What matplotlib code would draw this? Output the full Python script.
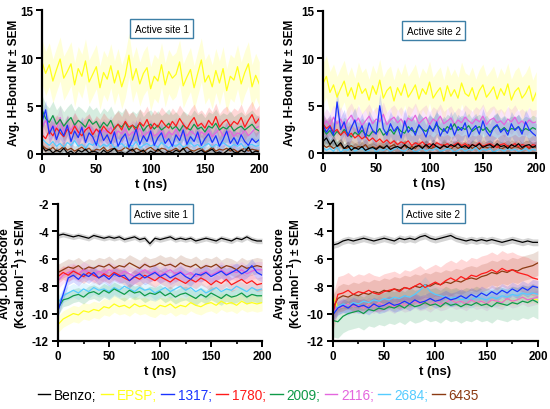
"""Two active sites: H-bond counts and DockScore over 200 ns (mean +/- SEM)."""

import numpy as np
import matplotlib
matplotlib.use("Agg")
import matplotlib.pyplot as plt

plt.rcParams["font.family"] = ["Liberation Sans", "DejaVu Sans"]
plt.rcParams["axes.unicode_minus"] = False

# ---------------------------------------------------------------------------
# Data
# ---------------------------------------------------------------------------

names = ["Benzo", "EPSP", "1317", "1780", "2009", "2116", "2684", "6435"]
colors = ["#000000", "#ffff1a", "#1a33ff", "#ff1a1a", "#0f9a48",
          "#e466de", "#55ccff", "#8b3a12"]

t_hb = np.linspace(0, 200, 61)
t_ds = np.linspace(0, 200, 41)

# H-bond number, active site 1
hb1_benzo = [0.8, 0.3, 0.5, 0.1, 0.4, 0.2, 0.6, 0.1, 0.3, 0.0, 0.4, 0.2, 0.5, 0.1, 0.3, 0.2, 0.0, 0.4, 0.1, 0.3, 0.6, 0.1, 0.2, 0.0, 0.3, 0.5, 0.1, 0.2, 0.4, 0.0, 0.3, 0.1, 0.5, 0.2, 0.0, 0.3, 0.1, 0.4, 0.2, 0.6, 0.1, 0.3, 0.0, 0.2, 0.4, 0.1, 0.3, 0.5, 0.1, 0.2, 0.0, 0.3, 0.6, 0.2, 0.1, 0.4, 0.2, 0.7, 0.1, 0.3, 0.2]
hb1_epsp = [9.6, 8.4, 9.3, 7.6, 8.8, 9.9, 7.9, 8.6, 9.4, 7.2, 8.9, 8.1, 9.7, 7.5, 8.3, 9.1, 6.9, 8.5, 7.8, 9.2, 7.4, 8.7, 7.0, 8.2, 10.3, 7.7, 8.9, 7.3, 8.4, 9.0, 6.8, 8.1, 7.6, 9.3, 7.2, 8.6, 7.9, 8.3, 9.6, 7.1, 8.0, 8.8, 6.9, 8.4, 9.8, 7.5, 8.2, 7.0, 8.7, 7.4, 8.9, 6.6, 8.1, 7.7, 9.1, 7.3, 8.5, 9.4, 7.0, 8.2, 7.3]
hb1_1317 = [3.4, 4.6, 2.1, 2.9, 1.5, 2.6, 1.9, 3.0, 1.3, 2.4, 1.7, 2.8, 1.2, 2.2, 1.8, 0.9, 2.5, 1.4, 2.0, 1.1, 2.3, 0.8, 1.6, 2.1, 0.7, 1.5, 2.6, 1.0, 1.9, 1.3, 2.4, 0.9, 1.7, 2.2, 1.1, 1.6, 0.8, 2.0, 1.4, 2.5, 1.0, 1.8, 1.3, 2.3, 0.9, 1.6, 2.1, 1.2, 1.9, 0.8, 1.5, 2.4, 1.1, 1.7, 1.0, 2.0, 1.3, 0.9, 1.6, 1.2, 1.5]
hb1_1780 = [2.0, 1.6, 2.4, 1.9, 2.7, 2.2, 1.8, 2.6, 2.1, 2.9, 2.3, 1.9, 2.5, 2.8, 2.0, 2.6, 2.2, 2.9, 2.4, 2.1, 2.7, 3.1, 2.5, 3.4, 2.8, 3.0, 2.4, 3.3, 2.9, 3.6, 2.6, 3.2, 2.8, 3.5, 3.0, 2.7, 3.4, 2.9, 3.7, 3.1, 2.6, 3.3, 3.8, 2.9, 3.2, 2.7, 3.5, 3.0, 3.9, 2.8, 3.3, 3.6, 2.9, 3.4, 3.1, 3.8, 2.8, 3.5, 4.1, 3.2, 3.7]
hb1_2009 = [4.6, 3.7, 3.3, 4.0, 3.1, 3.6, 2.9, 3.4, 3.8, 3.0, 3.5, 3.2, 2.8, 3.6, 3.1, 3.4, 2.7, 3.3, 2.9, 3.5, 2.6, 3.1, 2.8, 3.3, 2.5, 3.0, 2.7, 3.2, 2.4, 2.9, 3.1, 2.6, 3.0, 2.5, 2.8, 3.2, 2.6, 2.9, 2.4, 3.0, 2.7, 2.5, 3.1, 2.6, 2.8, 2.3, 2.9, 2.7, 3.2, 2.5, 2.8, 2.6, 3.0, 2.4, 2.7, 2.9, 2.5, 2.8, 3.1, 2.6, 2.4]
hb1_2116 = [2.8, 3.5, 2.4, 3.0, 2.6, 3.8, 2.3, 2.9, 2.5, 3.2, 2.1, 2.7, 2.4, 3.0, 2.2, 2.6, 1.9, 2.5, 2.2, 2.8, 1.8, 2.4, 2.1, 2.6, 1.9, 2.3, 2.0, 2.7, 1.8, 2.2, 2.4, 1.9, 2.1, 2.5, 1.7, 2.3, 2.0, 2.6, 1.8, 2.2, 1.9, 2.4, 2.1, 1.7, 2.3, 2.0, 2.5, 1.8, 2.2, 2.6, 1.9, 2.1, 2.4, 1.8, 2.2, 2.0, 2.5, 1.9, 2.3, 2.7, 2.9]
hb1_2684 = [1.6, 1.2, 0.9, 1.3, 0.8, 1.1, 0.7, 1.2, 0.9, 1.4, 0.8, 1.0, 0.6, 1.1, 0.9, 1.3, 0.7, 1.0, 0.8, 1.2, 0.6, 0.9, 1.1, 0.7, 1.0, 0.8, 1.3, 0.6, 0.9, 1.1, 0.8, 1.0, 0.7, 1.2, 0.9, 0.6, 1.0, 0.8, 1.1, 0.7, 0.9, 1.2, 0.8, 1.0, 0.6, 0.9, 1.1, 0.7, 1.0, 0.8, 1.2, 0.9, 0.7, 1.0, 0.8, 1.1, 0.6, 0.9, 1.0, 0.8, 0.9]
hb1_6435 = [0.9, 0.6, 0.4, 0.7, 0.3, 0.5, 0.8, 0.4, 0.6, 0.3, 0.5, 0.7, 0.4, 0.6, 0.2, 0.5, 0.4, 0.7, 0.3, 0.5, 0.6, 0.3, 0.4, 0.7, 0.5, 0.3, 0.6, 0.4, 0.2, 0.5, 0.7, 0.4, 0.3, 0.6, 0.5, 0.2, 0.4, 0.6, 0.3, 0.5, 0.7, 0.4, 0.3, 0.5, 0.6, 0.2, 0.4, 0.7, 0.3, 0.5, 0.4, 0.6, 0.3, 0.5, 0.2, 0.4, 0.6, 0.3, 0.5, 0.4, 0.3]
hb1_sem = [0.3, 2.3, 1.0, 1.4, 1.5, 1.2, 0.8, 0.5]

# H-bond number, active site 2
hb2_benzo = [1.2, 1.6, 0.9, 1.4, 0.7, 1.1, 0.5, 0.8, 0.3, 0.6, 0.4, 0.7, 0.3, 0.5, 0.6, 0.4, 0.7, 0.5, 0.8, 0.4, 0.6, 0.7, 0.5, 0.9, 0.6, 0.4, 0.7, 0.8, 0.5, 0.9, 0.6, 1.0, 0.7, 0.5, 0.8, 0.6, 0.9, 0.7, 1.0, 0.6, 0.8, 0.5, 0.9, 0.7, 1.0, 0.6, 0.8, 0.9, 0.6, 1.0, 0.7, 0.8, 0.5, 0.9, 0.7, 1.0, 0.6, 0.8, 0.9, 0.6, 0.8]
hb2_epsp = [7.3, 8.1, 6.4, 7.2, 5.9, 6.8, 7.6, 6.0, 6.9, 5.7, 7.4, 6.3, 6.8, 5.6, 7.1, 6.2, 7.7, 5.8, 6.6, 7.0, 5.5, 6.9, 6.1, 7.3, 5.9, 6.5, 7.2, 5.7, 6.8, 6.2, 7.5, 5.8, 6.4, 6.9, 5.5, 7.1, 6.0, 6.7, 5.8, 7.4, 6.3, 6.0, 6.9, 5.6, 6.6, 7.2, 5.9, 6.4, 7.0, 5.7, 6.8, 6.1, 7.3, 5.6, 6.5, 6.9, 5.8, 6.3, 7.1, 5.5, 6.4]
hb2_1317 = [3.0, 2.2, 2.8, 1.9, 5.4, 2.5, 3.3, 1.8, 2.7, 3.5, 2.1, 2.9, 1.7, 3.2, 2.4, 2.0, 5.0, 2.6, 1.9, 3.1, 2.3, 2.8, 1.6, 3.4, 2.2, 2.7, 1.9, 3.0, 2.5, 1.7, 2.9, 2.3, 3.3, 1.8, 2.6, 2.1, 3.1, 1.9, 2.8, 2.4, 3.2, 1.7, 2.5, 2.9, 2.0, 3.4, 2.3, 1.8, 2.7, 3.0, 2.2, 2.6, 1.9, 3.1, 2.4, 2.8, 2.0, 3.3, 2.5, 2.1, 1.8]
hb2_1780 = [3.1, 2.6, 2.9, 2.2, 2.5, 1.9, 2.3, 1.8, 2.1, 1.6, 1.9, 1.5, 1.8, 1.3, 1.6, 1.2, 1.5, 1.1, 1.4, 1.0, 1.3, 0.9, 1.2, 1.0, 1.3, 0.8, 1.1, 0.9, 1.2, 0.8, 1.0, 0.7, 1.1, 0.9, 0.8, 1.0, 0.7, 0.9, 1.1, 0.8, 1.0, 0.7, 0.9, 0.8, 1.1, 0.7, 0.9, 1.0, 0.8, 0.6, 0.9, 1.0, 0.7, 0.8, 1.0, 0.7, 0.9, 0.8, 0.6, 0.9, 0.8]
hb2_2009 = [2.6, 2.0, 2.4, 1.8, 2.3, 1.9, 2.5, 2.1, 1.7, 2.2, 1.9, 2.4, 2.0, 1.8, 2.3, 2.1, 2.6, 1.9, 2.2, 2.5, 2.0, 2.7, 2.3, 2.1, 2.8, 2.4, 2.2, 2.9, 2.5, 2.3, 2.7, 2.4, 3.0, 2.6, 2.3, 2.8, 2.5, 3.1, 2.4, 2.7, 2.5, 2.9, 2.3, 2.6, 2.8, 2.4, 2.7, 2.2, 2.6, 2.9, 2.4, 2.7, 2.3, 2.6, 2.5, 2.8, 2.3, 2.6, 2.4, 2.7, 2.5]
hb2_2116 = [2.8, 3.4, 2.9, 3.8, 3.1, 3.6, 2.7, 3.5, 4.0, 3.2, 3.7, 2.9, 3.4, 3.9, 3.1, 3.6, 3.3, 4.1, 3.0, 3.5, 3.8, 3.2, 3.6, 2.9, 3.7, 3.4, 4.0, 3.1, 3.5, 3.8, 3.0, 3.6, 3.3, 3.9, 3.1, 3.4, 3.7, 3.0, 3.5, 3.2, 3.8, 3.4, 3.1, 3.6, 3.3, 3.9, 3.0, 3.5, 3.7, 3.2, 3.4, 3.0, 3.6, 3.3, 3.8, 3.1, 3.4, 3.0, 3.5, 3.2, 3.3]
hb2_2684 = [0.6, 0.3, 0.5, 0.2, 0.7, 0.1, 0.4, 0.3, 0.6, 0.2, 0.4, 0.5, 0.2, 0.3, 0.6, 0.1, 0.4, 0.3, 0.5, 0.2, 0.4, 0.6, 0.3, 0.2, 0.5, 0.4, 0.1, 0.3, 0.5, 0.2, 0.4, 0.3, 0.6, 0.2, 0.3, 0.5, 0.4, 0.1, 0.3, 0.5, 0.2, 0.4, 0.3, 0.6, 0.2, 0.4, 0.3, 0.5, 0.1, 0.3, 0.4, 0.2, 0.5, 0.3, 0.4, 0.2, 0.3, 0.5, 0.2, 0.4, 0.3]
hb2_6435 = [0.9, 0.6, 0.8, 0.5, 0.7, 0.9, 0.4, 0.6, 0.8, 0.5, 0.7, 0.6, 0.9, 0.4, 0.7, 0.5, 0.8, 0.6, 0.4, 0.7, 0.9, 0.5, 0.6, 0.8, 0.4, 0.7, 0.5, 0.9, 0.6, 0.8, 0.4, 0.6, 0.7, 0.5, 0.9, 0.6, 0.4, 0.8, 0.5, 0.7, 0.6, 0.9, 0.5, 0.7, 0.4, 0.8, 0.6, 0.5, 0.7, 0.9, 0.4, 0.6, 0.8, 0.5, 0.7, 0.6, 0.4, 0.8, 0.5, 0.7, 0.6]
hb2_sem = [0.5, 2.2, 1.3, 1.0, 1.3, 1.3, 0.5, 0.6]

# DockScore, active site 1
ds1_benzo = [-4.3, -4.2, -4.3, -4.4, -4.3, -4.4, -4.5, -4.3, -4.4, -4.5, -4.4, -4.5, -4.4, -4.6, -4.5, -4.4, -4.6, -4.5, -4.9, -4.5, -4.6, -4.5, -4.4, -4.6, -4.5, -4.6, -4.5, -4.7, -4.6, -4.5, -4.6, -4.7, -4.5, -4.6, -4.7, -4.5, -4.6, -4.4, -4.6, -4.7, -4.7]
ds1_epsp = [-10.8, -10.4, -10.2, -10.0, -10.1, -9.8, -9.9, -9.7, -9.8, -9.5, -9.6, -9.3, -9.5, -9.4, -9.6, -9.3, -9.5, -9.4, -9.6, -9.7, -9.4, -9.5, -9.3, -9.6, -9.4, -9.5, -9.2, -9.4, -9.5, -9.3, -9.2, -9.4, -9.1, -9.3, -9.2, -9.4, -9.1, -9.3, -9.2, -9.3, -9.2]
ds1_1317 = [-9.8, -8.6, -7.4, -7.2, -7.5, -7.1, -7.3, -7.0, -7.4, -7.2, -7.5, -7.1, -7.3, -7.2, -7.6, -7.3, -7.1, -7.4, -7.2, -7.0, -7.3, -7.1, -7.4, -7.2, -7.0, -7.3, -7.5, -7.1, -7.2, -7.0, -7.3, -7.1, -6.9, -7.2, -7.0, -6.8, -7.1, -6.9, -6.5, -7.0, -7.2]
ds1_1780 = [-7.3, -7.0, -7.2, -6.9, -7.1, -7.3, -7.0, -7.2, -7.4, -7.1, -7.3, -7.0, -7.2, -7.4, -7.6, -7.3, -7.5, -7.2, -7.4, -7.6, -7.3, -7.5, -7.7, -7.4, -7.6, -7.8, -7.5, -7.7, -7.4, -7.6, -7.9, -7.6, -7.8, -7.5, -7.9, -7.7, -7.5, -7.8, -7.6, -7.9, -7.8]
ds1_2009 = [-9.6, -9.0, -8.9, -8.7, -8.6, -8.8, -8.5, -8.4, -8.6, -8.3, -8.5, -8.2, -8.4, -8.6, -8.3, -8.5, -8.4, -8.7, -8.5, -8.6, -8.4, -8.7, -8.5, -8.8, -8.6, -8.5, -8.7, -8.9, -8.6, -8.8, -8.5, -8.7, -8.9, -8.6, -8.8, -8.7, -8.5, -8.8, -8.6, -8.7, -8.7]
ds1_2116 = [-7.6, -7.2, -7.0, -6.9, -7.1, -6.8, -7.0, -7.2, -6.9, -7.1, -6.8, -7.0, -7.2, -6.9, -7.1, -7.3, -7.0, -6.8, -7.1, -6.9, -7.2, -7.0, -6.8, -7.1, -6.9, -7.2, -7.0, -7.3, -7.1, -6.9, -7.2, -7.0, -6.8, -7.1, -6.9, -7.0, -6.8, -7.1, -6.9, -6.8, -6.8]
ds1_2684 = [-9.2, -8.7, -8.5, -8.3, -8.5, -8.2, -8.4, -8.1, -8.3, -8.2, -8.4, -8.1, -8.3, -8.0, -8.2, -8.4, -8.1, -8.3, -8.2, -8.5, -8.3, -8.1, -8.4, -8.2, -8.0, -8.3, -8.1, -8.4, -8.2, -8.5, -8.3, -8.1, -8.4, -8.2, -8.3, -8.0, -8.2, -8.4, -8.1, -8.3, -8.2]
ds1_6435 = [-7.0, -6.8, -6.6, -6.7, -6.5, -6.8, -6.6, -6.7, -6.5, -6.6, -6.4, -6.7, -6.5, -6.6, -6.3, -6.5, -6.7, -6.4, -6.6, -6.5, -6.3, -6.5, -6.4, -6.6, -6.3, -6.5, -6.6, -6.4, -6.7, -6.5, -6.6, -6.4, -6.7, -6.5, -6.6, -6.8, -6.5, -6.7, -6.6, -6.5, -6.6]
ds1_sem = [0.2, 0.6, 0.5, 0.5, 0.5, 0.6, 0.5, 0.6]

# DockScore, active site 2
ds2_benzo = [-5.0, -4.9, -4.7, -4.6, -4.7, -4.6, -4.5, -4.6, -4.7, -4.6, -4.5, -4.6, -4.7, -4.5, -4.6, -4.5, -4.6, -4.4, -4.3, -4.5, -4.6, -4.5, -4.4, -4.3, -4.5, -4.6, -4.7, -4.6, -4.7, -4.6, -4.7, -4.6, -4.7, -4.8, -4.7, -4.6, -4.7, -4.8, -4.7, -4.8, -4.8]
ds2_epsp = [-8.7, -9.6, -9.5, -9.3, -9.5, -9.4, -9.6, -9.3, -9.5, -9.2, -9.4, -9.3, -9.5, -9.2, -9.4, -9.3, -9.1, -9.3, -9.2, -9.4, -9.1, -9.3, -9.2, -9.0, -9.2, -9.1, -9.3, -9.0, -9.2, -9.1, -9.3, -9.0, -9.1, -9.2, -8.9, -9.1, -9.0, -8.8, -9.0, -8.9, -9.0]
ds2_1317 = [-10.1, -9.6, -9.4, -9.6, -9.3, -9.5, -9.4, -9.6, -9.3, -9.5, -9.4, -9.2, -9.4, -9.3, -9.1, -9.3, -9.0, -9.2, -9.1, -8.9, -9.1, -9.0, -8.8, -9.0, -8.9, -8.7, -8.9, -8.6, -8.8, -8.5, -8.7, -8.4, -8.6, -8.3, -8.5, -8.2, -8.4, -8.1, -8.3, -8.0, -8.1]
ds2_1780 = [-10.0, -8.6, -8.5, -8.3, -8.6, -8.4, -8.5, -8.3, -8.5, -8.6, -8.4, -8.3, -8.2, -8.4, -8.1, -8.2, -8.0, -7.8, -8.1, -7.9, -7.7, -7.9, -7.6, -7.4, -7.6, -7.3, -7.5, -7.2, -7.3, -7.1, -7.0, -6.8, -7.0, -6.7, -6.9, -6.8, -7.0, -7.1, -7.2, -7.4, -7.5]
ds2_2009 = [-10.5, -10.6, -10.2, -10.0, -9.9, -9.8, -10.0, -9.7, -9.8, -9.6, -9.7, -9.5, -9.6, -9.4, -9.6, -9.3, -9.5, -9.4, -9.2, -9.4, -9.3, -9.5, -9.2, -9.4, -9.3, -9.5, -9.3, -9.4, -9.2, -9.4, -9.3, -9.5, -9.2, -9.3, -9.4, -9.2, -9.3, -9.1, -9.2, -9.0, -9.2]
ds2_2116 = [-9.8, -9.6, -9.5, -9.3, -9.5, -9.4, -9.6, -9.3, -9.5, -9.2, -9.4, -9.3, -9.5, -9.2, -9.4, -9.3, -9.1, -9.3, -9.2, -9.4, -9.1, -9.3, -9.2, -9.0, -9.2, -9.1, -9.3, -9.0, -9.2, -9.1, -9.3, -9.0, -9.1, -9.2, -8.9, -9.1, -9.0, -8.8, -9.0, -8.9, -8.8]
ds2_2684 = [-10.0, -9.5, -9.3, -9.4, -9.2, -9.3, -9.1, -9.2, -9.0, -9.1, -8.9, -9.0, -8.8, -8.9, -8.7, -8.8, -8.6, -8.3, -7.9, -8.4, -8.6, -8.7, -8.8, -8.9, -8.8, -9.0, -8.9, -9.0, -8.8, -8.9, -9.0, -8.8, -8.9, -8.7, -8.8, -8.6, -8.7, -8.5, -8.6, -8.5, -8.6]
ds2_6435 = [-9.6, -8.9, -8.7, -8.8, -8.6, -8.7, -8.5, -8.6, -8.4, -8.5, -8.3, -8.4, -8.2, -8.3, -8.1, -8.2, -8.0, -8.1, -7.9, -8.0, -7.8, -7.9, -7.7, -7.8, -7.6, -7.7, -7.5, -7.4, -7.5, -7.3, -7.2, -7.0, -7.1, -6.9, -7.0, -6.8, -6.9, -6.7, -6.6, -6.5, -6.3]
ds2_sem = [0.25, 0.3, 0.5, 1.3, 1.2, 0.5, 0.6, 0.9]

# ---------------------------------------------------------------------------
# Plotting
# ---------------------------------------------------------------------------

HB_YLABEL = "Avg. H-Bond Nr \u00b1 SEM"
DS_YLABEL = "Avg. DockScore\n(Kcal.mol$^{\\mathbf{-1}}$) \u00b1 SEM"

# draw order: back to front (index into names); EPSP sits at the back
DRAW_ORDER = [1, 7, 6, 5, 4, 3, 2, 0]


def draw_panel(ax, t, series, sems, title, box_xy, ylim, yticks, ylabel,
               label_x):
    for i in DRAW_ORDER:
        y = np.asarray(series[i])
        ax.fill_between(t, y - sems[i], y + sems[i], color=colors[i],
                        alpha=0.17, lw=0)
    for i in DRAW_ORDER:
        ax.plot(t, series[i], color=colors[i], lw=0.9)

    ax.set_xlim(0, 200)
    ax.set_ylim(*ylim)
    ax.set_xticks([0, 50, 100, 150, 200])
    ax.set_xticks([25, 75, 125, 175], minor=True)
    ax.set_yticks(yticks)
    for side in ("top", "right"):
        ax.spines[side].set_visible(False)
    for side in ("left", "bottom"):
        ax.spines[side].set_linewidth(1.6)
    ax.tick_params(which="major", length=4.5, width=1.4, labelsize=8.4, pad=2)
    ax.tick_params(which="minor", length=2.5, width=1.2)
    for lab in ax.get_xticklabels() + ax.get_yticklabels():
        lab.set_fontweight("bold")
    ax.set_xlabel("t (ns)", fontsize=9.5, fontweight="bold", labelpad=2)
    # y label placed by its centre so the two-line labels sit like the original
    ax.text(label_x, 0.5, ylabel, transform=ax.transAxes, rotation=90,
            ha="center", va="center", fontsize=8.6, fontweight="bold",
            linespacing=1.05, multialignment="center")

    ax.text(*box_xy, title, transform=ax.transAxes, ha="center", va="center",
            fontsize=7.2,
            bbox=dict(boxstyle="square,pad=0.45", fc="white",
                      ec="#3d7fa6", lw=1.0))


fig = plt.figure(figsize=(5.5, 4.1), dpi=100)

ax1 = fig.add_axes([0.0764, 0.622, 0.395, 0.351])
ax2 = fig.add_axes([0.587, 0.624, 0.388, 0.347])
ax3 = fig.add_axes([0.1055, 0.166, 0.371, 0.334])
ax4 = fig.add_axes([0.605, 0.166, 0.373, 0.334])

hb1 = [hb1_benzo, hb1_epsp, hb1_1317, hb1_1780, hb1_2009, hb1_2116, hb1_2684, hb1_6435]
hb2 = [hb2_benzo, hb2_epsp, hb2_1317, hb2_1780, hb2_2009, hb2_2116, hb2_2684, hb2_6435]
ds1 = [ds1_benzo, ds1_epsp, ds1_1317, ds1_1780, ds1_2009, ds1_2116, ds1_2684, ds1_6435]
ds2 = [ds2_benzo, ds2_epsp, ds2_1317, ds2_1780, ds2_2009, ds2_2116, ds2_2684, ds2_6435]

draw_panel(ax1, t_hb, hb1, hb1_sem, "Active site 1", (0.55, 0.87),
           (0, 15), [0, 5, 10, 15], HB_YLABEL, -0.131)
draw_panel(ax2, t_hb, hb2, hb2_sem, "Active site 2", (0.52, 0.86),
           (0, 15), [0, 5, 10, 15], HB_YLABEL, -0.153)
draw_panel(ax3, t_ds, ds1, ds1_sem, "Active site 1", (0.505, 0.93),
           (-12, -2), [-12, -10, -8, -6, -4, -2], DS_YLABEL, -0.212)
draw_panel(ax4, t_ds, ds2, ds2_sem, "Active site 2", (0.49, 0.93),
           (-12, -2), [-12, -10, -8, -6, -4, -2], DS_YLABEL, -0.21)

# legend row: "— Benzo; — EPSP; ..." with coloured text
handles = [plt.Line2D([], [], color=c, lw=1.0) for c in colors]
labels = [n + ";" for n in names[:-1]] + [names[-1]]
leg = fig.legend(handles, labels, loc="center", bbox_to_anchor=(0.47, 0.035),
                 ncol=8, frameon=False, fontsize=9.8, handlelength=0.9,
                 handletextpad=0.3, columnspacing=0.3, borderpad=0.1)
for txt, c in zip(leg.get_texts(), colors):
    txt.set_color(c)

fig.savefig("out.png", dpi=100)
